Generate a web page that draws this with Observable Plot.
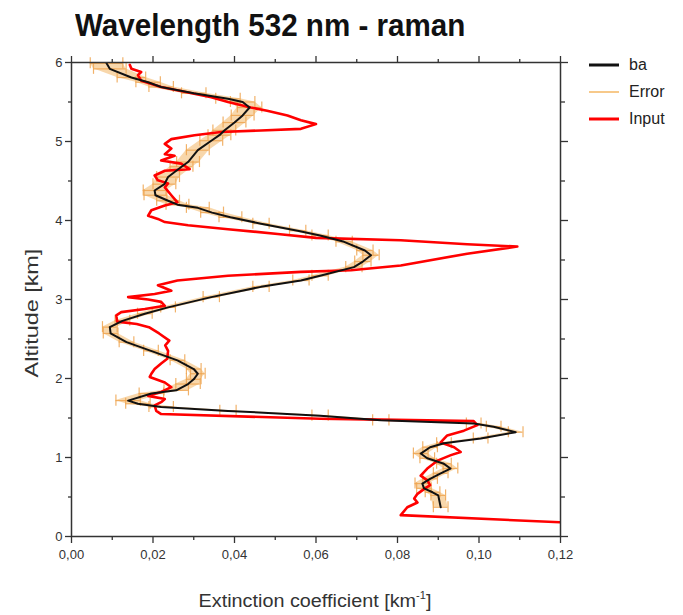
<!DOCTYPE html>
<html>
<head>
<meta charset="utf-8">
<script src="https://cdn.jsdelivr.net/npm/d3@7"></script>
<script src="https://cdn.jsdelivr.net/npm/@observablehq/plot@0.6"></script>
<style>
  body { margin: 0; background: #fff; }
  #chart { position: relative; width: 683px; height: 615px; font-family: "Liberation Sans", Arial, sans-serif; color: #222; }
  #title { position: absolute; left: 75px; top: 7px; font-size: 32px; font-weight: bold; white-space: nowrap; transform-origin: left top; transform: scaleX(0.925); color: #111; }
  #ylabel { position: absolute; left: 32px; top: 313px; font-size: 18px; white-space: nowrap; transform: translate(-50%, -50%) rotate(-90deg) scaleX(1.3); color: #333; }
  #xlabel { position: absolute; left: 315px; top: 590px; font-size: 18px; white-space: nowrap; transform: translateX(-50%) scaleX(1.1); color: #333; }
  #xlabel sup { font-size: 10px; vertical-align: 8px; }
  #legend { position: absolute; left: 589px; top: 51px; font-size: 16px; color: #222; }
  #legend div { display: flex; align-items: center; height: 27px; }
  #legend svg { margin-right: 10px; }
</style>
</head>
<body>
<div id="chart">
  <div id="title">Wavelength 532 nm - raman</div>
  <div id="ylabel">Altitude [km]</div>
  <div id="xlabel">Extinction coefficient [km<sup>-1</sup>]</div>
  <div id="legend"></div>
</div>
<script>
// Retrieved extinction profile "ba": altitude (km) and extinction (km^-1)
const baAltitude = [5.99, 5.92, 5.81, 5.75, 5.69, 5.61, 5.54, 5.50, 5.43, 5.33, 5.24, 5.14, 5.08, 5.01,
  4.89, 4.74, 4.68, 4.55, 4.46, 4.38, 4.32, 4.25, 4.20, 4.16, 4.10, 4.04, 3.96, 3.87, 3.81, 3.73,
  3.62, 3.56, 3.48, 3.41, 3.30, 3.24, 3.16, 3.03, 2.90, 2.82, 2.73, 2.65, 2.57, 2.46, 2.35, 2.23,
  2.12, 2.06, 1.99, 1.93, 1.85, 1.81, 1.72, 1.68, 1.64, 1.59, 1.53, 1.47, 1.43, 1.39, 1.32, 1.24,
  1.18, 1.13, 1.05, 0.99, 0.92, 0.86, 0.80, 0.73, 0.67, 0.61, 0.56, 0.52, 0.37];
const baExtinction = [0.0086, 0.0094, 0.0147, 0.0188, 0.0220, 0.0300, 0.0384, 0.0420, 0.0437, 0.0420, 0.0400, 0.0375, 0.0363, 0.0343,
  0.0310, 0.0286, 0.0270, 0.0237, 0.0228, 0.0204, 0.0206, 0.0237, 0.0260, 0.0310, 0.0345, 0.0390, 0.0465, 0.0555, 0.0610, 0.0669,
  0.0720, 0.0735, 0.0715, 0.0693, 0.0610, 0.0563, 0.0465, 0.0343, 0.0237, 0.0180, 0.0125, 0.0094, 0.0096, 0.0135, 0.0195, 0.0260,
  0.0300, 0.0310, 0.0300, 0.0286, 0.0257, 0.0196, 0.0139, 0.0163, 0.0220, 0.0384, 0.0610, 0.0759, 0.0987, 0.1036, 0.1090, 0.1004,
  0.0914, 0.0880, 0.0857, 0.0873, 0.0914, 0.0930, 0.0906, 0.0880, 0.0861, 0.0865, 0.0886, 0.0900, 0.0906];
// Half-width of the error bar at each "ba" point (km^-1)
const baError = [0.0040, 0.0040, 0.0035, 0.0030, 0.0030, 0.0030, 0.0030, 0.0030, 0.0030, 0.0028, 0.0028, 0.0028, 0.0028, 0.0028,
  0.0028, 0.0028, 0.0028, 0.0028, 0.0028, 0.0028, 0.0028, 0.0028, 0.0028, 0.0028, 0.0028, 0.0028, 0.0020, 0.0020, 0.0020, 0.0020,
  0.0020, 0.0020, 0.0020, 0.0020, 0.0020, 0.0020, 0.0020, 0.0020, 0.0018, 0.0018, 0.0018, 0.0018, 0.0018, 0.0018, 0.0018, 0.0018,
  0.0018, 0.0018, 0.0018, 0.0030, 0.0030, 0.0030, 0.0030, 0.0030, 0.0030, 0.0020, 0.0020, 0.0020, 0.0018, 0.0018, 0.0018, 0.0018,
  0.0018, 0.0018, 0.0018, 0.0018, 0.0018, 0.0018, 0.0018, 0.0018, 0.0018, 0.0018, 0.0018, 0.0018, 0.0018];

// Input extinction profile
const inputAltitude = [5.97, 5.92, 5.88, 5.84, 5.77, 5.69, 5.62, 5.56, 5.50, 5.43, 5.39, 5.33, 5.27, 5.22,
  5.16, 5.14, 5.12, 5.08, 5.03, 4.97, 4.91, 4.84, 4.82, 4.76, 4.72, 4.65, 4.63, 4.57, 4.51, 4.47,
  4.42, 4.32, 4.23, 4.19, 4.13, 4.06, 4.02, 3.98, 3.94, 3.89, 3.83, 3.78, 3.75, 3.70, 3.67, 3.58,
  3.43, 3.37, 3.35, 3.30, 3.24, 3.18, 3.11, 3.07, 3.03, 3.00, 2.97, 2.92, 2.88, 2.84, 2.80, 2.72,
  2.69, 2.65, 2.57, 2.48, 2.42, 2.35, 2.25, 2.19, 2.12, 2.06, 2.02, 1.95, 1.89, 1.83, 1.78, 1.74,
  1.70, 1.66, 1.59, 1.55, 1.49, 1.48, 1.46, 1.41, 1.34, 1.28, 1.19, 1.13, 1.07, 1.03, 0.96, 0.86,
  0.77, 0.71, 0.65, 0.60, 0.54, 0.48, 0.43, 0.37, 0.27, 0.18];
const inputExtinction = [0.0143, 0.0147, 0.0171, 0.0163, 0.0171, 0.0220, 0.0286, 0.0343, 0.0384, 0.0440, 0.0480, 0.0530, 0.0563, 0.0600,
  0.0563, 0.0465, 0.0367, 0.0302, 0.0245, 0.0229, 0.0245, 0.0229, 0.0253, 0.0220, 0.0269, 0.0290, 0.0229, 0.0204, 0.0212, 0.0237,
  0.0229, 0.0245, 0.0260, 0.0229, 0.0196, 0.0188, 0.0212, 0.0229, 0.0286, 0.0384, 0.0506, 0.0600, 0.0808, 0.0971, 0.1094, 0.0971,
  0.0808, 0.0686, 0.0563, 0.0384, 0.0260, 0.0212, 0.0245, 0.0204, 0.0139, 0.0188, 0.0220, 0.0229, 0.0180, 0.0122, 0.0110, 0.0112,
  0.0160, 0.0190, 0.0215, 0.0240, 0.0230, 0.0237, 0.0235, 0.0220, 0.0204, 0.0196, 0.0192, 0.0229, 0.0245, 0.0220, 0.0188, 0.0229,
  0.0220, 0.0204, 0.0208, 0.0220, 0.0610, 0.0759, 0.0987, 0.0996, 0.0963, 0.0922, 0.0906, 0.0939, 0.0955, 0.0931, 0.0898, 0.0873,
  0.0857, 0.0873, 0.0880, 0.0865, 0.0849, 0.0841, 0.0849, 0.0824, 0.0808, 0.1200];

// Axis ticks
const xTicks = [0, 0.02, 0.04, 0.06, 0.08, 0.10, 0.12];
const xMinorTicks = [0.01, 0.03, 0.05, 0.07, 0.09, 0.11];
const yTicks = [0, 1, 2, 3, 4, 5, 6];
const yMinorTicks = [0.5, 1.5, 2.5, 3.5, 4.5, 5.5];

// Legend entries
const seriesNames = ["ba", "Error", "Input"];
const seriesColors = ["#111111", "#f7c98a", "#ff0000"];

const ba = baAltitude.map((alt, i) => ({alt, v: baExtinction[i], e: baError[i]}));
const input = inputAltitude.map((alt, i) => ({alt, v: inputExtinction[i]}));

const errColor = "#eea550";
const comma = d => d.toFixed(2).replace(".", ",");
const blank = () => "";
const axisStyle = {stroke: "#333", strokeWidth: 1.3, label: null};

const plot = Plot.plot({
  width: 683,
  height: 615,
  marginLeft: 71,
  marginRight: 123,
  marginTop: 62,
  marginBottom: 79,
  style: {fontFamily: "'Liberation Sans', Arial, sans-serif", fontSize: "13px", color: "#333", background: "transparent"},
  x: {domain: [0, 0.12]},
  y: {domain: [0, 6]},
  marks: [
    // error band: shaded envelope plus bars with end caps
    Plot.areaX(ba, {y: "alt", x1: d => d.v - d.e, x2: d => d.v + d.e, fill: "#f3b766", fillOpacity: 0.55}),
    Plot.ruleY(ba, {y: "alt", x1: d => d.v - d.e, x2: d => d.v + d.e, stroke: errColor, strokeWidth: 1.2, strokeOpacity: 0.85}),
    Plot.ruleX(ba, {x: d => d.v - d.e, y1: d => d.alt - 0.07, y2: d => d.alt + 0.07, stroke: errColor, strokeWidth: 1.2, strokeOpacity: 0.85}),
    Plot.ruleX(ba, {x: d => d.v + d.e, y1: d => d.alt - 0.07, y2: d => d.alt + 0.07, stroke: errColor, strokeWidth: 1.2, strokeOpacity: 0.85}),
    Plot.line(input, {x: "v", y: "alt", stroke: "#ff0000", strokeWidth: 2.6, clip: true}),
    Plot.line(ba, {x: "v", y: "alt", stroke: "#111", strokeWidth: 2}),
    Plot.frame({stroke: "#333", strokeWidth: 1.5}),
    // bottom axis with labels, top axis mirrored without labels
    Plot.axisX({anchor: "bottom", ticks: xTicks, tickSize: 7, tickPadding: 6, tickFormat: comma, ...axisStyle}),
    Plot.axisX({anchor: "bottom", ticks: xMinorTicks, tickSize: 4, tickFormat: blank, ...axisStyle}),
    Plot.axisX({anchor: "top", ticks: xTicks, tickSize: 7, tickFormat: blank, ...axisStyle}),
    Plot.axisX({anchor: "top", ticks: xMinorTicks, tickSize: 4, tickFormat: blank, ...axisStyle}),
    // left axis with labels, right axis mirrored without labels
    Plot.axisY({anchor: "left", ticks: yTicks, tickSize: 6, tickPadding: 3, tickFormat: d => String(d), ...axisStyle}),
    Plot.axisY({anchor: "left", ticks: yMinorTicks, tickSize: 3, tickFormat: blank, ...axisStyle}),
    Plot.axisY({anchor: "right", ticks: yTicks, tickSize: 7, tickFormat: blank, ...axisStyle}),
    Plot.axisY({anchor: "right", ticks: yMinorTicks, tickSize: 4, tickFormat: blank, ...axisStyle})
  ]
});
plot.style.position = "absolute";
plot.style.left = "0";
plot.style.top = "0";
document.getElementById("chart").prepend(plot);

// legend: short line sample followed by the series name
const legend = document.getElementById("legend");
seriesNames.forEach((name, i) => {
  const row = document.createElement("div");
  row.innerHTML = `<svg width="30" height="6"><line x1="0" x2="30" y1="3" y2="3" stroke="${seriesColors[i]}" stroke-width="${i === 1 ? 2 : 3}"/></svg><span>${name}</span>`;
  legend.appendChild(row);
});
</script>
</body>
</html>
